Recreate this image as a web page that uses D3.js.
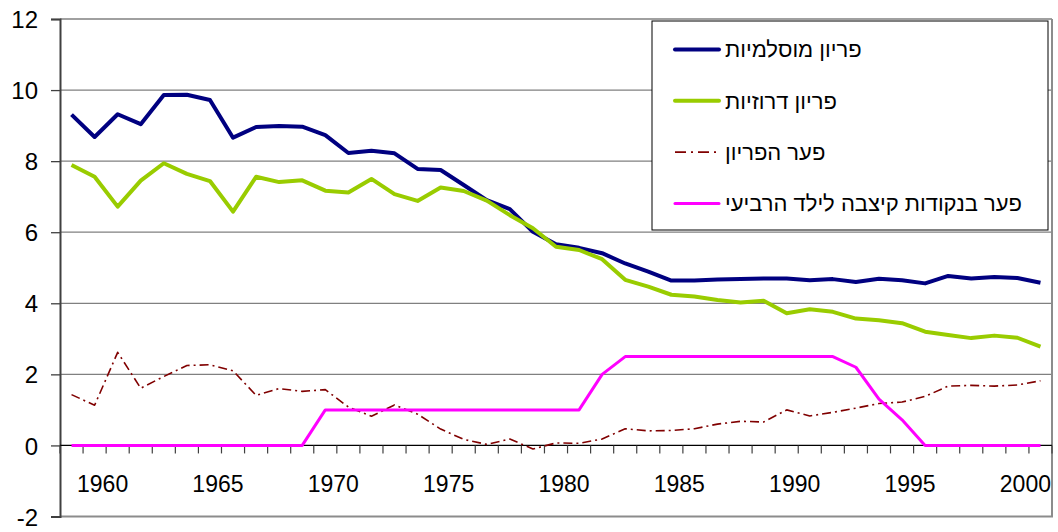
<!DOCTYPE html>
<html>
<head>
    <meta charset="utf-8">
    <title>Fertility gap chart</title>
    <script src="https://d3js.org/d3.v7.min.js"></script>
    <style>
        body {
            margin: 0;
            background: white;
        }
        svg text {
            font-family: "Liberation Sans", Arial, sans-serif;
            fill: black;
        }
    </style>
</head>
<body>
    <div id="chart"></div>

    <script>
        // Chart data
        const years = [1959, 1960, 1961, 1962, 1963, 1964, 1965, 1966, 1967, 1968,
                       1969, 1970, 1971, 1972, 1973, 1974, 1975, 1976, 1977, 1978,
                       1979, 1980, 1981, 1982, 1983, 1984, 1985, 1986, 1987, 1988,
                       1989, 1990, 1991, 1992, 1993, 1994, 1995, 1996, 1997, 1998,
                       1999, 2000, 2001];

        const muslimFertility = [9.31, 8.68, 9.32, 9.04, 9.86, 9.87, 9.72, 8.66, 8.96, 8.99,
                                 8.97, 8.73, 8.23, 8.29, 8.22, 7.78, 7.75, 7.33, 6.90, 6.65,
                                 6.01, 5.66, 5.56, 5.41, 5.12, 4.89, 4.64, 4.64, 4.67, 4.68,
                                 4.70, 4.70, 4.65, 4.68, 4.60, 4.69, 4.65, 4.56, 4.77, 4.70,
                                 4.74, 4.71, 4.58];

        const druzeFertility = [7.89, 7.56, 6.72, 7.45, 7.94, 7.64, 7.44, 6.58, 7.56, 7.41,
                                7.46, 7.17, 7.12, 7.50, 7.07, 6.88, 7.26, 7.16, 6.89, 6.48,
                                6.11, 5.59, 5.50, 5.24, 4.66, 4.47, 4.24, 4.19, 4.09, 4.02,
                                4.07, 3.72, 3.83, 3.76, 3.57, 3.52, 3.44, 3.20, 3.11, 3.02,
                                3.09, 3.03, 2.78];

        const fertilityGap = [1.43, 1.13, 2.62, 1.61, 1.94, 2.25, 2.27, 2.10, 1.41, 1.60,
                              1.52, 1.57, 1.08, 0.82, 1.14, 0.88, 0.46, 0.17, 0.03, 0.18,
                              -0.10, 0.07, 0.06, 0.18, 0.47, 0.41, 0.42, 0.47, 0.60, 0.68,
                              0.66, 1.00, 0.83, 0.93, 1.05, 1.18, 1.22, 1.38, 1.67, 1.69,
                              1.67, 1.70, 1.82];

        const allowanceGap = [0, 0, 0, 0, 0, 0, 0, 0, 0, 0,
                              0, 1, 1, 1, 1, 1, 1, 1, 1, 1,
                              1, 1, 1, 2, 2.5, 2.5, 2.5, 2.5, 2.5, 2.5,
                              2.5, 2.5, 2.5, 2.5, 2.2, 1.3, 0.72, 0, 0, 0,
                              0, 0, 0];

        const yTicks = [-2, 0, 2, 4, 6, 8, 10, 12];
        const xLabels = ["1960", "1965", "1970", "1975", "1980", "1985", "1990", "1995", "2000"];

        const seriesNames = ["פריון מוסלמיות", "פריון דרוזיות", "פער הפריון", "פער בנקודות קיצבה לילד הרביעי"];

        // Set up dimensions
        const width = 1058;
        const height = 532;
        const plot = { left: 60, right: 1052, top: 19, bottom: 516.5 };

        const svg = d3.select("#chart")
            .append("svg")
            .attr("width", width)
            .attr("height", height);

        // Scales
        const x = d3.scaleBand()
            .domain(years)
            .range([plot.left, plot.right]);
        const xc = d => x(d) + x.bandwidth() / 2;

        const y = d3.scaleLinear()
            .domain([-2, 12])
            .range([plot.bottom, plot.top]);

        // Gridlines
        svg.append("g")
            .selectAll("line")
            .data(yTicks.filter(d => d > 0))
            .enter()
            .append("line")
            .attr("x1", plot.left)
            .attr("x2", plot.right)
            .attr("y1", d => y(d))
            .attr("y2", d => y(d))
            .style("stroke", "#808080")
            .style("stroke-width", 1.3);

        // Plot area border (right + bottom)
        svg.append("path")
            .attr("d", `M${plot.right},${plot.top}V${plot.bottom}H${plot.left}`)
            .style("fill", "none")
            .style("stroke", "#8c8c8c")
            .style("stroke-width", 2);

        // Y axis
        const yAxis = svg.append("g")
            .attr("transform", `translate(${plot.left},0)`)
            .call(d3.axisLeft(y)
                .tickValues(yTicks)
                .tickSize(9)
                .tickPadding(13)
                .tickFormat(d => String(d)));
        yAxis.select(".domain").style("stroke", "#404040").style("stroke-width", 2);
        yAxis.selectAll(".tick line").style("stroke", "#404040").style("stroke-width", 1.3);
        yAxis.selectAll("text")
            .style("font-size", "24px")
            .attr("dy", "0.36em");

        // X axis at value 0, ticks between categories
        const xAxis = svg.append("g");
        xAxis.append("line")
            .attr("x1", plot.left)
            .attr("x2", plot.right)
            .attr("y1", y(0))
            .attr("y2", y(0))
            .style("stroke", "black")
            .style("stroke-width", 1.2);
        xAxis.selectAll(".xtick")
            .data(years.concat([null]))
            .enter()
            .append("line")
            .attr("class", "xtick")
            .attr("x1", d => d === null ? plot.right : x(d))
            .attr("x2", d => d === null ? plot.right : x(d))
            .attr("y1", y(0))
            .attr("y2", y(0) + 8)
            .style("stroke", "#404040")
            .style("stroke-width", 1.2);
        xAxis.selectAll(".xlabel")
            .data(xLabels)
            .enter()
            .append("text")
            .attr("class", "xlabel")
            .attr("x", d => xc(+d) + 8)
            .attr("y", 492)
            .attr("text-anchor", "middle")
            .style("font-size", "23px")
            .text(d => d);

        // Lines
        const series = [
            { values: muslimFertility, color: "#000080", width: 4, dash: null },
            { values: druzeFertility, color: "#99cc00", width: 4, dash: null },
            { values: fertilityGap, color: "#800000", width: 1.6, dash: "9,4,2,4" },
            { values: allowanceGap, color: "#ff00ff", width: 3, dash: null }
        ];

        const line = d3.line()
            .x((d, i) => xc(years[i]))
            .y(d => y(d));

        svg.append("g")
            .selectAll("path")
            .data(series)
            .enter()
            .append("path")
            .attr("d", d => line(d.values))
            .style("fill", "none")
            .style("stroke", d => d.color)
            .style("stroke-width", d => d.width)
            .style("stroke-dasharray", d => d.dash)
            .style("stroke-linejoin", "round");

        // Legend
        const legend = svg.append("g");
        legend.append("rect")
            .attr("x", 652)
            .attr("y", 21)
            .attr("width", 396)
            .attr("height", 209)
            .style("fill", "white")
            .style("stroke", "black")
            .style("stroke-width", 1);

        const items = legend.selectAll(".item")
            .data(series)
            .enter()
            .append("g")
            .attr("class", "item")
            .attr("transform", (d, i) => `translate(0,${49.5 + i * 51.3})`);

        items.append("line")
            .attr("x1", 675)
            .attr("x2", 719)
            .style("stroke", d => d.color)
            .style("stroke-width", d => d.width)
            .style("stroke-dasharray", d => d.dash ? "11,5,2,5" : null)
            .style("stroke-linecap", d => d.dash ? "butt" : "round");

        items.append("text")
            .attr("x", 725)
            .attr("y", 0)
            .attr("dy", "0.35em")
            .style("font-size", "22px")
            .text((d, i) => seriesNames[i]);
    </script>
</body>
</html>
